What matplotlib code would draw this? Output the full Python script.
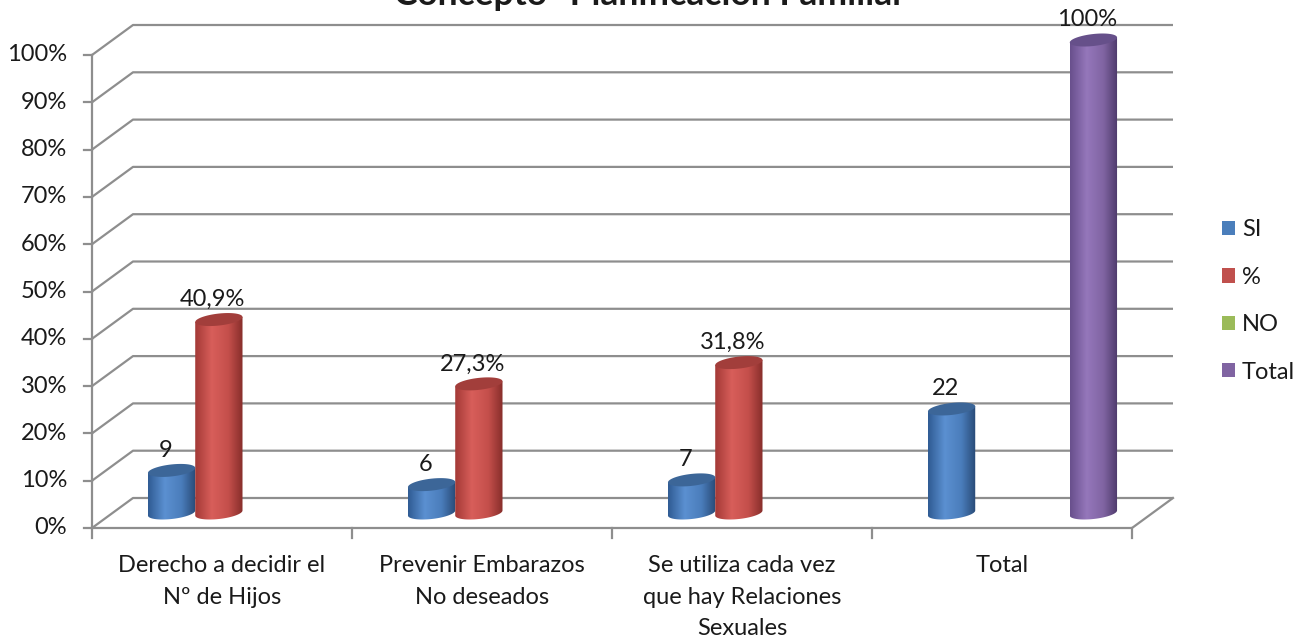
import numpy as np
import matplotlib
matplotlib.use("Agg")
import matplotlib.pyplot as plt
from matplotlib.patches import Polygon, Patch
from matplotlib.colors import LinearSegmentedColormap

# ---- data ----
categories = ["Derecho a decidir el\nNº de Hijos",
              "Prevenir Embarazos\nNo deseados",
              "Se utiliza cada vez\nque hay Relaciones\nSexuales",
              "Total"]
series_names = ["SI", "%", "NO", "Total"]
si_values = [9, 6, 7, 22]
pct_values = [40.9, 27.3, 31.8, None]
no_values = [None, None, None, None]
total_values = [None, None, None, 100]
y_ticks = [0, 10, 20, 30, 40, 50, 60, 70, 80, 90, 100]
y_tick_labels = [f"{v}%" for v in y_ticks]
title = 'Concepto "Planificación Familiar"'

# ---- styling ----
plt.rcParams['font.family'] = ['Lato', 'DejaVu Sans']
FS = 17
GRID = '#8e8e8e'
TEXT = '#1a1a1a'
series_colors = ['#4a7ebb', '#c0504d', '#9bbb59', '#8064a2']
body_maps = [
    LinearSegmentedColormap.from_list('b', [(0, '#2f5b93'), (0.35, '#5b90d1'), (0.7, '#4a7dbb'), (1, '#284a76')]),
    LinearSegmentedColormap.from_list('r', [(0, '#a33936'), (0.35, '#d85e5a'), (0.7, '#c44f4b'), (1, '#862d2a')]),
    LinearSegmentedColormap.from_list('g', [(0, '#7a9845'), (0.35, '#b0d06c'), (0.7, '#9bbb59'), (1, '#5f7a30')]),
    LinearSegmentedColormap.from_list('p', [(0, '#684f8c'), (0.35, '#9577bb'), (0.7, '#8064a2'), (1, '#4d396a')]),
]
top_colors = ['#3c6698', '#a23e3b', '#7f9a48', '#66508a']

W, H = 1310, 642
fig = plt.figure(figsize=(W / 100, H / 100), dpi=100)
ax = fig.add_axes([0, 0, 1, 1])
ax.axis('off')

# pixel geometry of the front plane of the 3-D box
left_px, right_px, base_px, top_px = 92, 1132, 528, 55
n_cat = len(categories)
xpp = n_cat / (right_px - left_px)
ypp = 100 / (base_px - top_px)
xlim = (-left_px * xpp, n_cat + (W - right_px) * xpp)
ylim = (-(H - base_px) * ypp, 100 + top_px * ypp)
DX, DY = 41 * xpp, 30 * ypp   # depth offset of the back wall

# walls and gridlines
for v, lab in zip(y_ticks, y_tick_labels):
    ax.plot([0, DX, n_cat + DX], [v, v + DY, v + DY], color=GRID, lw=1.6,
            solid_capstyle='butt', zorder=1)
    ax.plot([-8 * xpp, 0], [v, v], color=GRID, lw=1.6, zorder=1)
    ax.text(-25 * xpp, v, lab, ha='right', va='center', fontsize=FS, color=TEXT)
ax.plot([0, 0], [0, 100], color=GRID, lw=1.6, zorder=1)
ax.plot([0, n_cat, n_cat + DX], [0, 0, DY], color=GRID, lw=1.6, zorder=1)
for i in range(n_cat + 1):
    ax.plot([i, i], [0, -10 * ypp], color=GRID, lw=1.6, zorder=1)

for i, lab in enumerate(categories):
    ax.text(i + 0.5, -27 * ypp, lab, ha='center', va='top', fontsize=FS,
            color=TEXT, linespacing=1.62)

# cylinders
gap = 1.5
slot = 1 / (len(series_names) + gap)
bw = slot
eh = 12 * ypp
tilt = (5 * ypp) / (47 * xpp)        # slope of the elliptical caps
grad = np.linspace(0, 1, 256)[None, :]


def cap(xc, yc, t):
    x = xc + bw / 2 * np.cos(t)
    y = yc + eh / 2 * np.sin(t) + tilt * (x - xc)
    return x, y


def cylinder(xc, h, k):
    base = DY / 2
    top = base + h
    bx, by = cap(xc, base, np.linspace(np.pi, 2 * np.pi, 60))
    verts = ([(xc - bw / 2, top - tilt * bw / 2)] + list(zip(bx, by))
             + [(xc + bw / 2, top + tilt * bw / 2)])
    body = Polygon(verts, closed=True, facecolor='none', edgecolor='none')
    ax.add_patch(body)
    im = ax.imshow(grad, cmap=body_maps[k],
                   extent=[xc - bw / 2, xc + bw / 2, base - eh, top + eh],
                   aspect='auto', interpolation='bilinear', zorder=3)
    im.set_clip_path(body)
    tx, ty = cap(xc, top, np.linspace(0, 2 * np.pi, 90))
    ax.add_patch(Polygon(np.column_stack([tx, ty]), closed=True,
                         facecolor=top_colors[k], edgecolor='none', zorder=4))
    return top


def fmt_pct(v):
    s = f"{v:.1f}".replace('.', ',')
    if s.endswith(',0'):
        s = s[:-2]
    return s + '%'


all_series = [si_values, pct_values, no_values, total_values]
for i in range(n_cat):
    for k, vals in enumerate(all_series):
        v = vals[i]
        if v is None:
            continue
        xc = i + (gap / 2 + k + 0.5) * slot + DX / 2
        top = cylinder(xc, v, k)
        label = str(v) if k == 0 else fmt_pct(v)
        ax.annotate(label, (xc - 6 * xpp, top), xytext=(0, 20), textcoords='offset pixels',
                    ha='center', va='center', fontsize=FS, color=TEXT, zorder=5)

# legend
handles = [Patch(facecolor=c, edgecolor='none') for c in series_colors]
ax.legend(handles, series_names, loc='center left', bbox_to_anchor=(1222 / W, 1 - 301 / H),
          bbox_transform=fig.transFigure, frameon=False, fontsize=FS, borderpad=0,
          borderaxespad=0, handlelength=0.55, handleheight=0.55, handletextpad=0.3,
          labelspacing=1.12, labelcolor=TEXT)

fig.text(657 / W, 1 - 5 / H, title, ha='center', va='baseline', fontsize=25.5,
         fontweight='bold', color=TEXT)

ax.set_xlim(*xlim)
ax.set_ylim(*ylim)
fig.savefig('out.png', dpi=100, facecolor='white')
